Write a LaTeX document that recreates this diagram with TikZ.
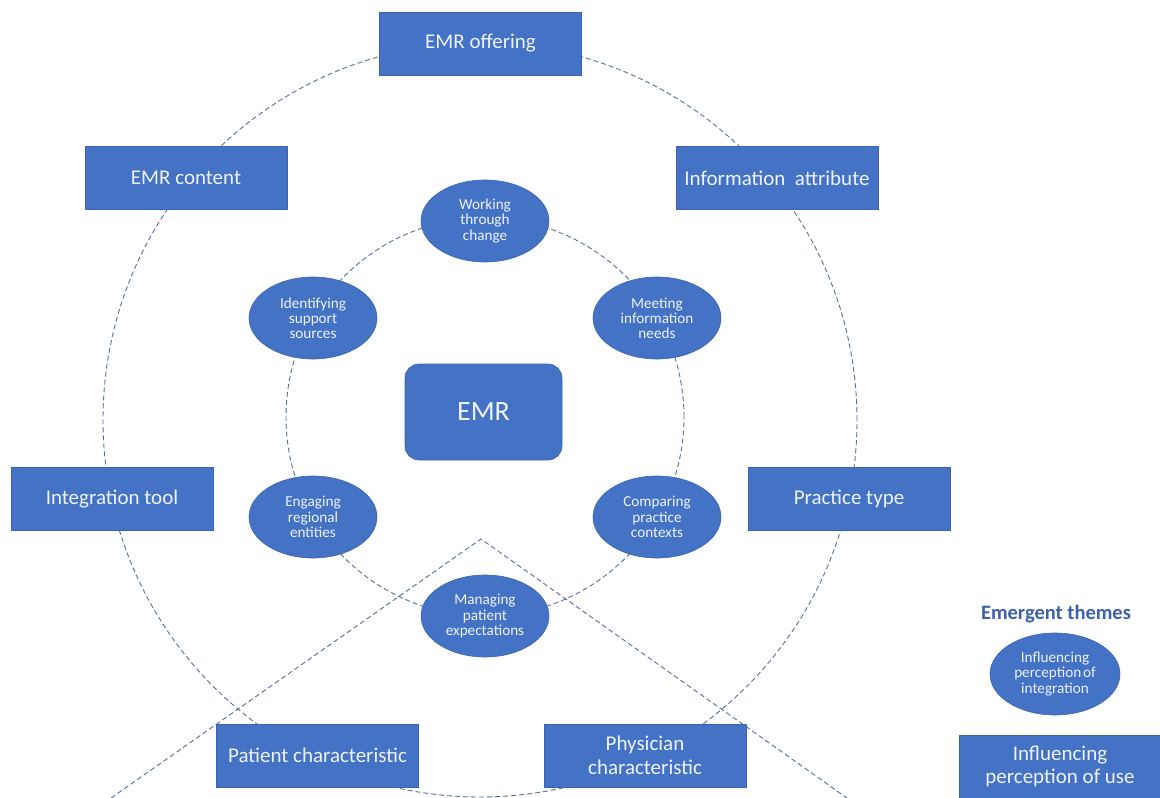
\documentclass[tikz,border=0pt]{standalone}
\usepackage{fontspec}
\setmainfont{Carlito}
\usetikzlibrary{shapes.geometric}
\definecolor{boxblue}{RGB}{68,114,196}
\definecolor{edgeblue}{RGB}{60,100,176}
\definecolor{dashgrey}{RGB}{88,110,158}
\definecolor{themeblue}{RGB}{62,96,166}
\definecolor{lighttext}{RGB}{238,243,251}

\begin{document}
\begin{tikzpicture}[x=1pt,y=-1pt,
  factor/.style={rectangle, fill=boxblue, draw=edgeblue, line width=0.6pt,
    minimum width=202pt, minimum height=63pt, inner sep=0pt, text=lighttext,
    font=\fontsize{21}{23.5}\selectfont, align=center},
  theme/.style={ellipse, fill=boxblue, draw=edgeblue, line width=0.6pt,
    minimum width=128pt, minimum height=82pt, inner sep=0pt, text=lighttext,
    font=\fontsize{15.2}{15.2}\selectfont, align=center},
  guide/.style={draw=dashgrey, line width=0.9pt, dash pattern=on 5pt off 3pt}]

\useasboundingbox (0,0) rectangle (1160,798);
\fill[white] (0,0) rectangle (1160,798);

% outer ring of factors, inner ring of themes
\coordinate (outerc) at (480,420);
\coordinate (innerc) at (485,417);
\draw[guide] (outerc) circle[radius=377pt];
\draw[guide] (innerc) circle[radius=199pt];

% open triangle below the centre
\coordinate (apex) at (481,539);
\coordinate (triL) at (111,798);
\coordinate (triR) at (847,798);
\draw[guide] (triL) -- (apex) -- (triR);

% factor boxes
\node[factor] (offering) at (480.5,43.5) {EMR offering};
\node[factor] (content) at (186,178) {EMR content};
\node[factor] (attribute) at (777,178) {Information\hspace{0.45em}attribute};
\node[factor] (integration) at (112,499) {Integration tool};
\node[factor] (practice) at (849,499) {Practice type};
\node[factor] (patient) at (317.5,755.5) {Patient characteristic};
\node[factor] (physician) at (645,755.5) {Physician\\characteristic};

% central EMR
\node[rectangle, rounded corners=14pt, fill=boxblue, draw=edgeblue, line width=0.6pt,
  minimum width=157pt, minimum height=96pt, text=lighttext,
  font=\fontsize{28}{32}\selectfont] (emr) at (483.5,412) {EMR};

% theme ellipses
\node[theme] (working) at (485,221) {Working\\through\\change};
\node[theme] (meeting) at (657,318) {Meeting\\information\\needs};
\node[theme] (comparing) at (657,517) {Comparing\\practice\\contexts};
\node[theme] (managing) at (485,616) {Managing\\patient\\expectations};
\node[theme] (engaging) at (313,517) {Engaging\\regional\\entities};
\node[theme] (identifying) at (313,318) {Identifying\\support\\sources};

% legend
\node[text=themeblue, font=\bfseries\fontsize{20.5}{23}\selectfont] (legendtitle) at (1056,614) {Emergent themes};
\node[theme, minimum width=130pt, minimum height=82pt] (legendtheme) at (1055,674)
  {Influencing\\perception\hspace{0.12em}of\\integration};
\node[factor] (legendfactor) at (1060,766.5)
  {Influencing\\perception of use};
\end{tikzpicture}
\end{document}
